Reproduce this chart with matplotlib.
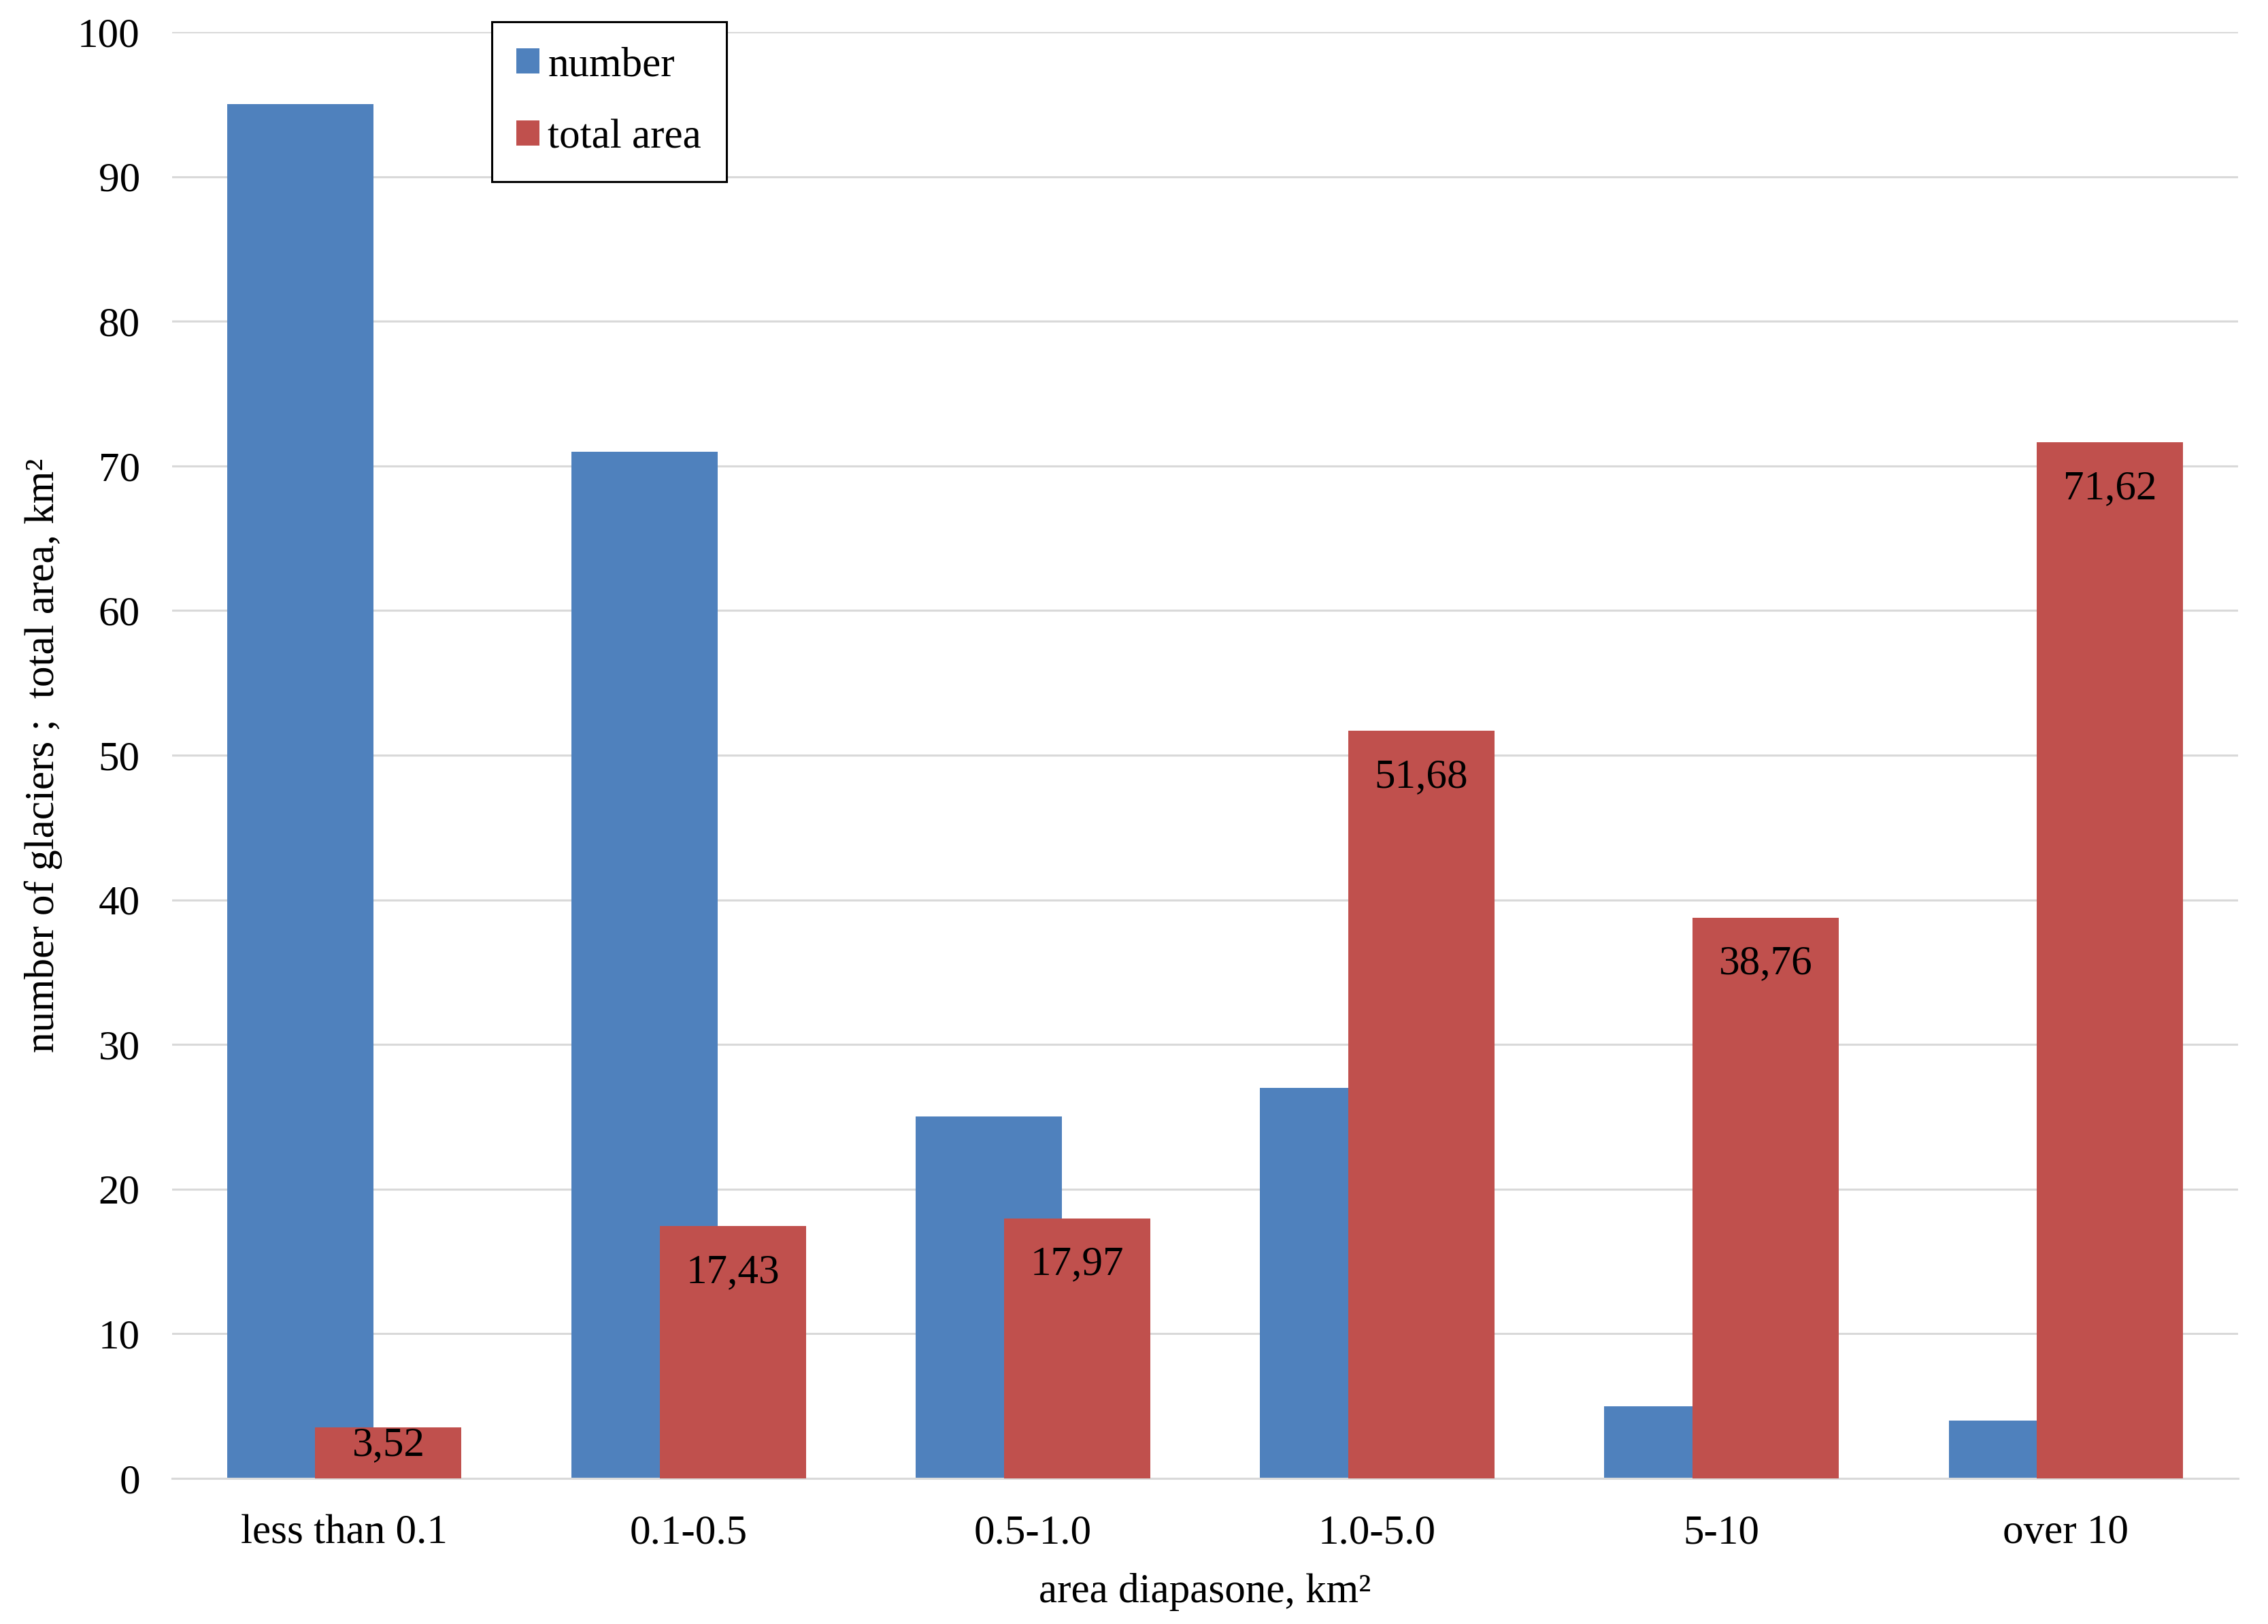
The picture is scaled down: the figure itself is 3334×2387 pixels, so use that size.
import matplotlib.pyplot as plt
import numpy as np

categories = ["less than 0.1", "0.1-0.5", "0.5-1.0", "1.0-5.0", "5-10", "over 10"]
number = [95, 71, 25, 27, 5, 4]
total_area = [3.52, 17.43, 17.97, 51.68, 38.76, 71.62]
area_labels = ["3,52", "17,43", "17,97", "51,68", "38,76", "71,62"]

BLUE = "#4F81BD"
RED = "#C0504D"
GRID = "#D9D9D9"

plt.rcParams["font.family"] = ["Liberation Serif", "DejaVu Serif"]


def plot_glaciers():
    fig = plt.figure(figsize=(16.67, 11.935), dpi=200)
    ax = fig.add_axes([0.0759, 0.0897, 0.9109, 0.8906])

    x = np.arange(len(categories))
    width = 0.425
    shift = 0.128
    ax.bar(x - shift, number, width, color=BLUE, label="number", zorder=2)
    ax.bar(x + shift, total_area, width, color=RED, label="total area", zorder=3)

    # labels inside the top of the red bars, kept above the axis for short bars
    for xi, v, txt in zip(x, total_area, area_labels):
        ax.text(xi + shift, max(v - 1.88, 3.57), txt, ha="center", va="top",
                fontsize=22, color="black", zorder=4)

    ax.set_xlim(-0.5, len(categories) - 0.5)
    ax.set_ylim(0, 100)
    ax.set_yticks(range(0, 101, 10))
    ax.set_xticks(x)
    ax.set_xticklabels(categories)
    ax.tick_params(axis="both", length=0, labelsize=22)
    ax.tick_params(axis="y", pad=17)
    ax.tick_params(axis="x", pad=19)

    ax.grid(axis="y", color=GRID, linewidth=1.1, zorder=0)
    ax.set_axisbelow(True)
    for side in ["top", "right", "left"]:
        ax.spines[side].set_visible(False)
    ax.spines["bottom"].set_color(GRID)
    ax.spines["bottom"].set_linewidth(1.1)

    ax.set_xlabel("area diapasone, km²", fontsize=22, labelpad=11)
    ax.set_ylabel("number of glaciers ;  total area, km²", fontsize=22, labelpad=8)

    leg = ax.legend(loc="upper left", bbox_to_anchor=(0.2168, 0.9866),
                    bbox_transform=fig.transFigure, borderaxespad=0,
                    fontsize=22, handlelength=0.55, handleheight=0.55,
                    handletextpad=0.2, borderpad=0.6, labelspacing=0.83,
                    fancybox=False, framealpha=1, edgecolor="black")
    leg.get_frame().set_linewidth(1.1)

    fig.savefig("out.png", dpi=200)
    plt.close(fig)


if __name__ == "__main__":
    plot_glaciers()
